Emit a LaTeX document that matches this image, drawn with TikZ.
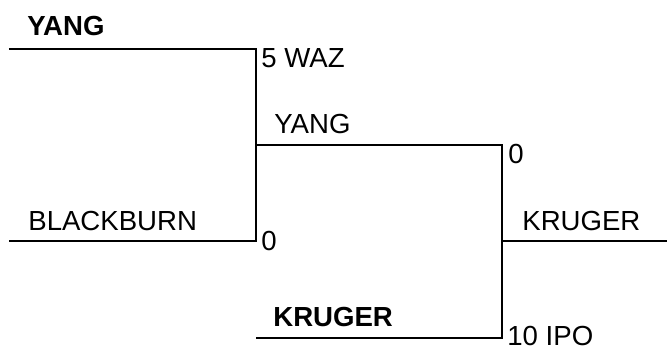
\documentclass[tikz,border=0pt]{standalone}
\usepackage{fontspec}
\setmainfont{Liberation Sans}
\usetikzlibrary{calc}
\tikzset{
	bracket/.style={line width=1.6pt},
	player/.style={anchor=base west, inner sep=0pt, font=\fontsize{15.7}{18}\selectfont},
	winner/.style={player, font=\fontsize{15.7}{18}\selectfont\bfseries},
	score/.style={player}
}

\begin{document}
\begin{tikzpicture}
			%%%%% START %%%%%
			\useasboundingbox (0, 0) rectangle (13.34, 6.98);
			
			\coordinate (r1a) at (0.18, 6.0);
			\coordinate (r1b) at (0.18, 2.16);
			\coordinate (m1a) at (5.12, 6.0);
			\coordinate (m1b) at (5.12, 2.16);
			\coordinate (r2a) at (5.12, 4.08);
			\coordinate (r2b) at (5.12, 0.22);
			\coordinate (m2a) at (10.04, 4.08);
			\coordinate (m2b) at (10.04, 0.22);
			\coordinate (fin) at (10.04, 2.16);
			\coordinate (end) at (13.34, 2.16);
			
			% first round
			\draw[bracket] (r1a) -- (m1a) -- (m1b) -- (r1b);
			\draw[bracket] (r2a) -- (m1a |- r2a);
			
			% second round
			\draw[bracket] (r2a) -- (m2a) -- (m2b) -- (r2b);
			
			% final
			\draw[bracket] (fin) -- (end);
			
			\node[winner] (yang1) at (0.54, 6.26) {YANG};
			\node[player] (blackburn) at (0.56, 2.38) {BLACKBURN};
			\node[score] (s1a) at (5.22, 5.62) {5 WAZ};
			\node[score] (s1b) at (5.22, 1.98) {0};
			
			\node[player] (yang2) at (5.48, 4.32) {YANG};
			\node[winner] (kruger1) at (5.46, 0.46) {KRUGER};
			\node[score] (s2a) at (10.16, 3.72) {0};
			\node[score] (s2b) at (10.14, 0.07) {10 IPO};
			
			\node[player] (kruger2) at (10.44, 2.38) {KRUGER};
			%%%%% END %%%%%
		\end{tikzpicture}
\end{document}
